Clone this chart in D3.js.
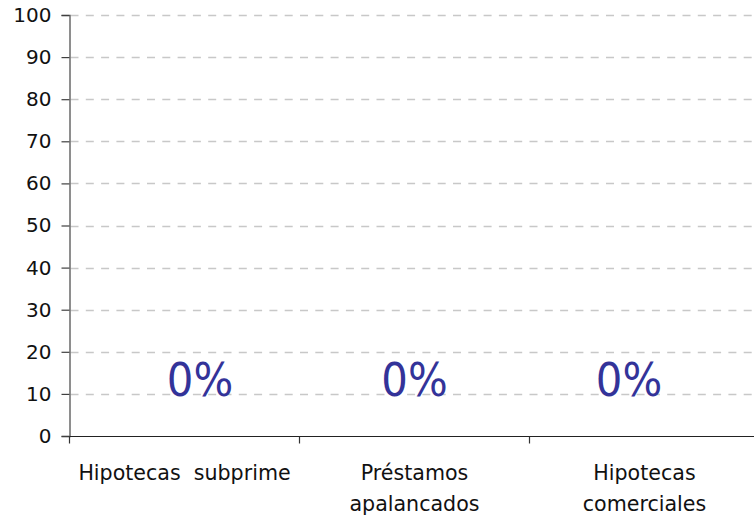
<!DOCTYPE html>
<html>
<head>
<meta charset="utf-8">
<script src="https://cdn.jsdelivr.net/npm/d3@7"></script>
<style>
  html, body { margin: 0; padding: 0; background: #fff; }
  svg { display: block; }
  text { font-family: "DejaVu Sans", Verdana, sans-serif; }
</style>
</head>
<body>
<svg id="chart" width="754" height="517"></svg>
<script>
// Chart data
const categories = [["Hipotecas  subprime"], ["Préstamos", "apalancados"], ["Hipotecas", "comerciales"]];
const values = [0, 0, 0];
const valueLabels = ["0%", "0%", "0%"];
const yTicks = [0, 10, 20, 30, 40, 50, 60, 70, 80, 90, 100];

const svg = d3.select("#chart");
const plotLeft = 69.5, plotRight = 759.5, plotTop = 15, plotBottom = 436;

const x = d3.scaleBand().domain(d3.range(categories.length)).range([plotLeft, plotRight]).padding(0);
// data labels sit on their own, slightly narrower, spread
const xLabel = d3.scalePoint().domain(d3.range(categories.length)).range([200, 629]);
const y = d3.scaleLinear().domain([0, 100]).range([plotBottom, plotTop]);

// Dashed horizontal gridlines
svg.append("g")
  .selectAll("line")
  .data(yTicks.filter(d => d > 0))
  .join("line")
  .attr("x1", plotLeft + 1).attr("x2", 754)
  .attr("y1", d => Math.round(y(d)) + 0.5).attr("y2", d => Math.round(y(d)) + 0.5)
  .attr("stroke", "#c8c8c8")
  .attr("stroke-width", 1.3)
  .attr("stroke-dasharray", "8,7.3");

// Bars (zero-height)
svg.append("g")
  .selectAll("rect")
  .data(values)
  .join("rect")
  .attr("x", (d, i) => x(i) + x.bandwidth() * 0.2)
  .attr("width", x.bandwidth() * 0.6)
  .attr("y", d => y(d))
  .attr("height", d => y(0) - y(d))
  .attr("fill", "#333399");

// Y axis
const yAxis = svg.append("g")
  .attr("transform", `translate(${plotLeft},0)`)
  .call(d3.axisLeft(y).tickValues(yTicks).tickSize(8).tickPadding(10));
yAxis.select(".domain").attr("stroke", "#6a6a6a").attr("stroke-width", 1.5);
yAxis.selectAll(".tick line").attr("stroke", "#404040").attr("stroke-width", 1.2);
yAxis.selectAll(".tick text")
  .style("font-size", "20px")
  .style("font-family", "'DejaVu Sans', Verdana, sans-serif")
  .attr("fill", "#111");

// X axis baseline with category separators
const xg = svg.append("g").attr("transform", `translate(0,${Math.round(y(0)) + 0.5})`);
xg.append("line").attr("x1", plotLeft).attr("x2", 754).attr("stroke", "#222").attr("stroke-width", 1.2);
xg.selectAll("line.sep")
  .data(d3.range(categories.length))
  .join("line")
  .attr("class", "sep")
  .attr("x1", i => x(i)).attr("x2", i => x(i))
  .attr("y1", 0).attr("y2", 7)
  .attr("stroke", "#333")
  .attr("stroke-width", 1.2);

// Category labels
const catG = svg.append("g");
categories.forEach((lines, i) => {
  const t = catG.append("text")
    .attr("x", x(i) + x.bandwidth() / 2)
    .attr("y", 480)
    .attr("text-anchor", "middle")
    .style("font-size", "20.6px")
    .attr("fill", "#111")
    .style("white-space", "pre");
  lines.forEach((ln, k) => {
    t.append("tspan")
      .attr("x", x(i) + x.bandwidth() / 2)
      .attr("dy", k === 0 ? 0 : 31)
      .text(ln);
  });
});

// Value labels
svg.append("g")
  .selectAll("text")
  .data(values)
  .join("text")
  .attr("x", (d, i) => xLabel(i))
  .attr("y", d => y(d) - 40)
  .attr("text-anchor", "middle")
  .style("font-size", "46.5px")
  .style("font-family", "'DejaVu Sans Condensed', 'DejaVu Sans', sans-serif")
  .style("font-stretch", "condensed")
  .attr("fill", "#333399")
  .text((d, i) => valueLabels[i]);
</script>
</body>
</html>
